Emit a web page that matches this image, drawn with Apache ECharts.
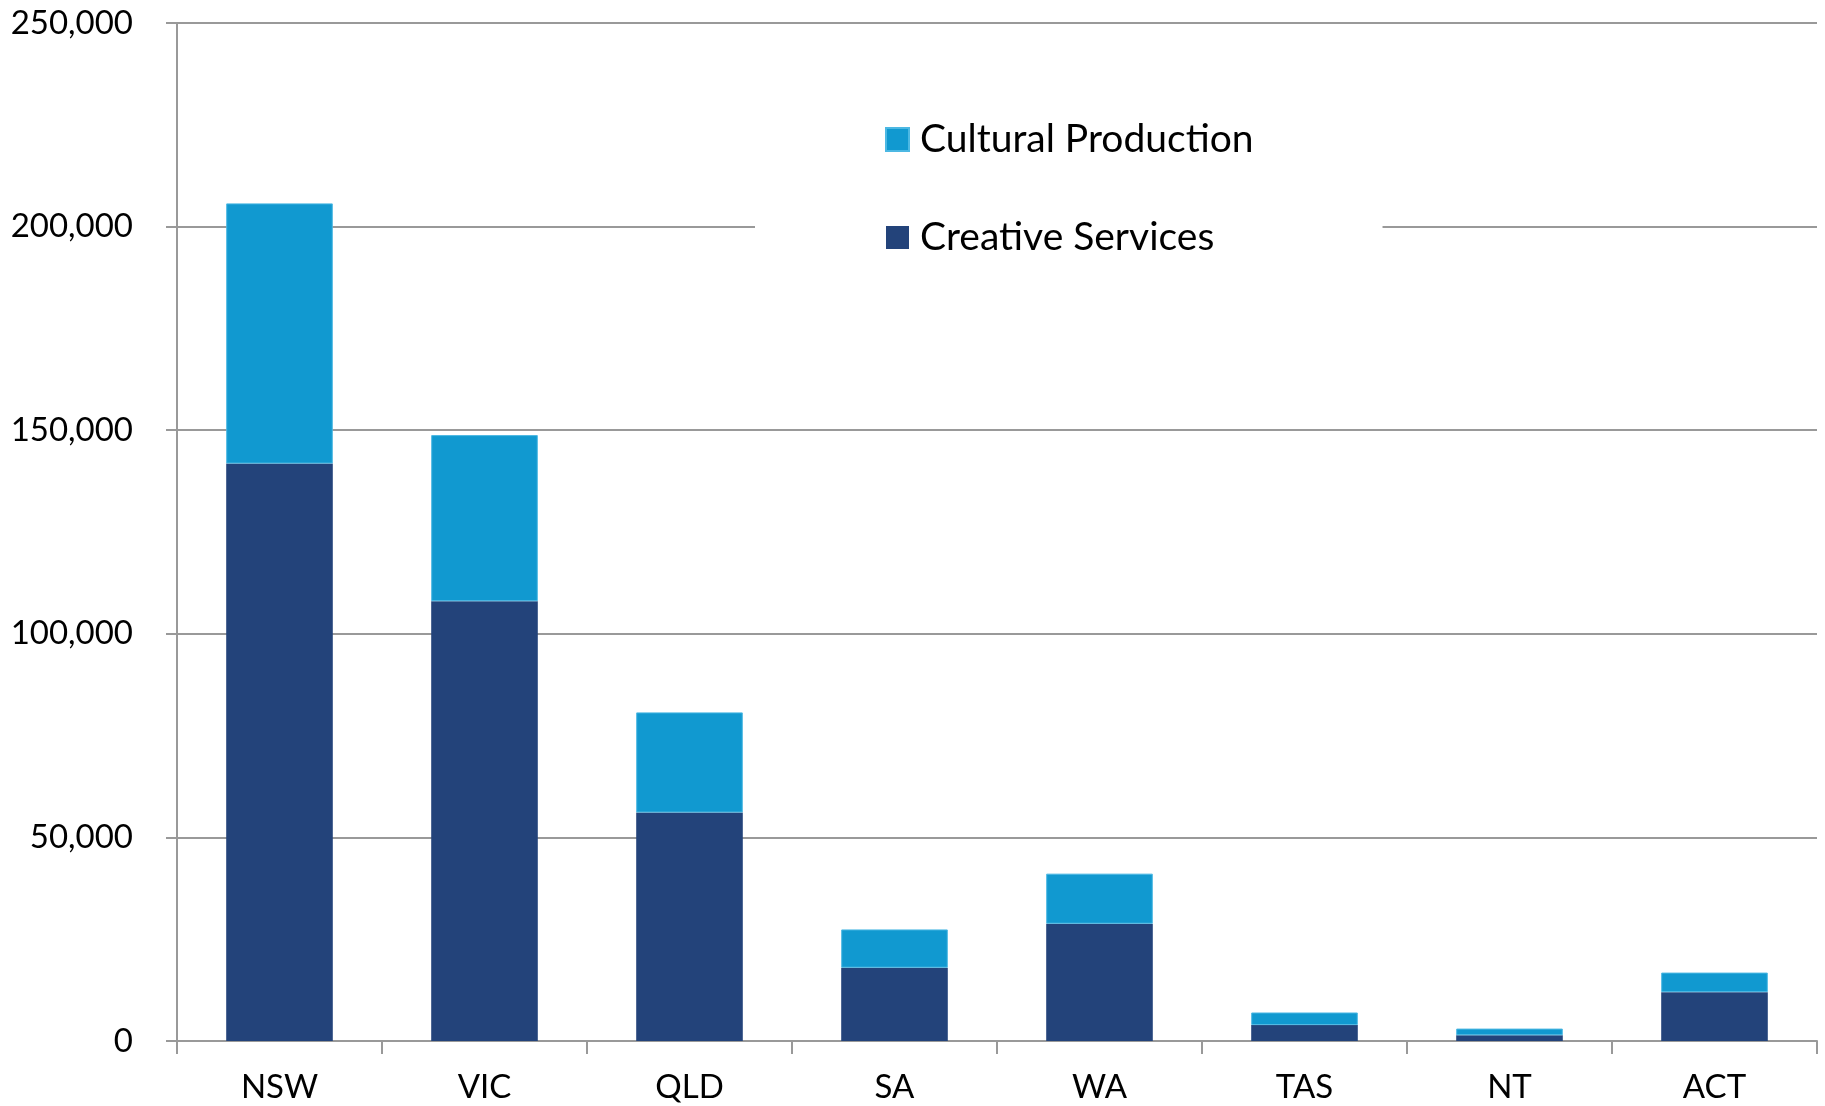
<!DOCTYPE html>
<html>
<head>
<meta charset="utf-8">
<script src="https://cdn.jsdelivr.net/npm/echarts@6/dist/echarts.min.js"></script>
<style>html,body{margin:0;padding:0;background:#fff;}#c{width:1825px;height:1106px;}</style>
</head>
<body>
<div id="c"></div>
<script>
const categories = ['NSW', 'VIC', 'QLD', 'SA', 'WA', 'TAS', 'NT', 'ACT'];
const creativeServices = [141800, 108000, 56100, 18000, 28800, 3900, 1400, 12000];
const culturalProduction = [63900, 40800, 24600, 9400, 12300, 3100, 1650, 4800];
const seriesNames = ['Cultural Production', 'Creative Services'];
const yTicks = { min: 0, max: 250000, interval: 50000 };

const FONT = 'Lato';
const chart = echarts.init(document.getElementById('c'), null, { renderer: 'canvas' });
chart.setOption({
  animation: false,
  textStyle: { fontFamily: FONT },
  grid: { left: 177, right: 8, top: 23, bottom: 65 },
  legend: {
    orient: 'vertical',
    left: 755,
    top: 60,
    padding: [60, 129, 40, 130],
    backgroundColor: '#ffffff',
    itemWidth: 23,
    itemHeight: 23,
    itemGap: 59,
    icon: 'rect',
    data: seriesNames,
    textStyle: { fontFamily: FONT, fontSize: 39, color: '#000', lineHeight: 39, padding: [0, 0, 0, 6] }
  },
  xAxis: {
    type: 'category',
    data: categories,
    boundaryGap: true,
    axisLine: { show: true, lineStyle: { color: '#999', width: 2 } },
    axisTick: { show: true, length: 13, alignWithLabel: false, lineStyle: { color: '#999', width: 2 } },
    axisLabel: { fontFamily: FONT, fontSize: 33, color: '#000', margin: 30, interval: 0 }
  },
  yAxis: {
    type: 'value',
    min: yTicks.min,
    max: yTicks.max,
    interval: yTicks.interval,
    axisLine: { show: true, lineStyle: { color: '#999', width: 2 } },
    axisTick: { show: true, length: 11, lineStyle: { color: '#999', width: 2 } },
    splitLine: { show: true, lineStyle: { color: '#999', width: 2 } },
    axisLabel: {
      fontFamily: FONT, fontSize: 33, color: '#000', margin: 44,
      formatter: v => v.toLocaleString('en-US')
    }
  },
  series: [
    {
      name: 'Creative Services',
      type: 'bar',
      stack: 'total',
      data: creativeServices,
      barCategoryGap: '48%',
      itemStyle: { color: '#23437A' }
    },
    {
      name: 'Cultural Production',
      type: 'bar',
      stack: 'total',
      data: culturalProduction,
      barCategoryGap: '48%',
      itemStyle: { color: '#1199D0', borderColor: '#4CB8E3', borderWidth: 1 }
    }
  ]
});
</script>
</body>
</html>
